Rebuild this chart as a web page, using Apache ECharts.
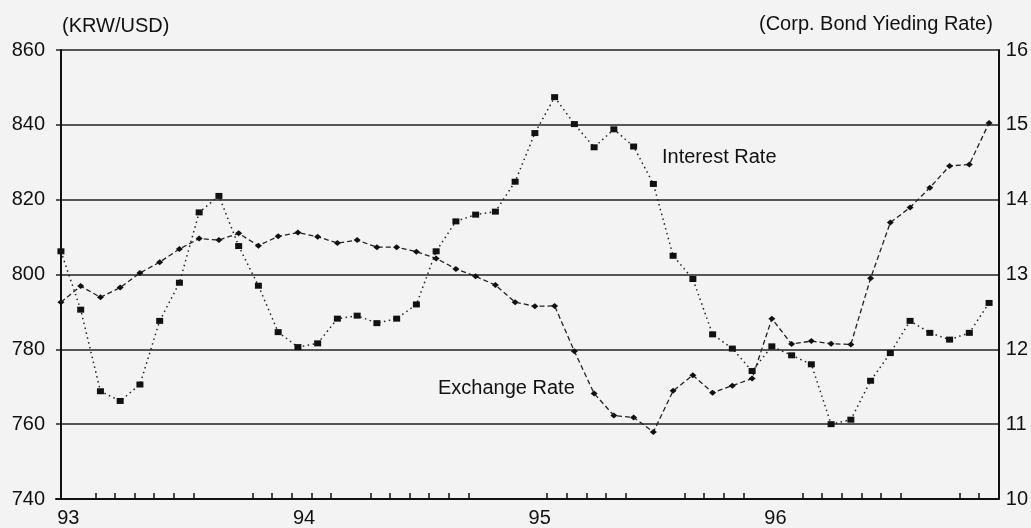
<!DOCTYPE html>
<html>
<head>
<meta charset="utf-8">
<script src="https://cdn.jsdelivr.net/npm/echarts@6/dist/echarts.min.js"></script>
<style>
html,body{margin:0;padding:0;background:#f3f3f3;}
#chart{width:1031px;height:528px;}
</style>
</head>
<body>
<div id="chart"></div>
<script>
// ---- data ----
const years = ['93', '94', '95', '96'];
const monthsPerYear = 12;
// KRW/USD exchange rate (left axis), monthly Jan 93 - Dec 96
const exchangeRate = [
  792.6, 796.9, 793.9, 796.5, 800.4, 803.3, 806.8, 809.6, 809.2, 811.0, 807.7, 810.2,
  811.2, 810.1, 808.4, 809.2, 807.3, 807.3, 806.1, 804.3, 801.5, 799.5, 797.2, 792.6,
  791.5, 791.6, 779.5, 768.2, 762.3, 761.8, 757.9, 768.9, 773.1, 768.4, 770.3, 772.2,
  788.2, 781.4, 782.2, 781.5, 781.3, 799.0, 813.9, 817.9, 823.2, 829.0, 829.4, 840.5
];
// Corporate bond yield (right axis, %)
const interestRate = [
  13.31, 12.53, 11.44, 11.31, 11.53, 12.38, 12.89, 13.83, 14.05, 13.38, 12.85, 12.23,
  12.03, 12.08, 12.41, 12.45, 12.35, 12.41, 12.60, 13.31, 13.71, 13.80, 13.84, 14.24,
  14.89, 15.37, 15.01, 14.70, 14.94, 14.71, 14.21, 13.25, 12.94, 12.20, 12.01, 11.71,
  12.04, 11.92, 11.80, 11.00, 11.06, 11.58, 11.95, 12.38, 12.22, 12.13, 12.22, 12.62
];
const leftTicks = [740, 760, 780, 800, 820, 840, 860];
const rightTicks = [10, 11, 12, 13, 14, 15, 16];
// month slots whose tick marks are visible on the scanned original
const shownTicks = [2,3,4,5,6,7,10,11,12,13,14,16,17,18,19,20,21,25,26,27,28,29,32,33,34,35,38,39,40,41,42,43,46,47];

// ---- build ----
const months = [];
years.forEach(y => { for (let m = 1; m <= monthsPerYear; m++) months.push(y + '-' + m); });
const exData = exchangeRate.map((v, i) => [i, v]);
const irData = interestRate.map((v, i) => [i, v]);
const tickSet = new Set(shownTicks);
const FONT = '"Liberation Sans", Arial, Helvetica, sans-serif';

const chart = echarts.init(document.getElementById('chart'));
chart.setOption({
  backgroundColor: '#f3f3f3',
  animation: false,
  grid: { left: 56, right: 28, top: 50, bottom: 27, containLabel: false },
  xAxis: [
    { type: 'value', min: -0.25, max: 47.49, show: false, position: 'bottom' },
    {
      type: 'category', data: months, boundaryGap: true, position: 'bottom',
      axisLine: { show: true, lineStyle: { color: '#111', width: 2 } },
      axisTick: { show: true, inside: true, length: 6, lineStyle: { color: '#111', width: 1.5 },
                  interval: (idx) => tickSet.has(idx) },
      axisLabel: { show: true, interval: 11, margin: 9, color: '#111', fontSize: 20, fontFamily: FONT,
                   formatter: (v) => v.split('-')[0], padding: [0, 0, 0, 5] },
      splitLine: { show: false }
    }
  ],
  yAxis: [
    {
      type: 'value', position: 'left', min: leftTicks[0], max: leftTicks[leftTicks.length - 1], interval: 20,
      axisLine: { show: true, lineStyle: { color: '#111', width: 2 } },
      axisTick: { show: false },
      axisLabel: { color: '#111', fontSize: 20, fontFamily: FONT, margin: 11 },
      splitLine: { show: true, lineStyle: { color: '#222', width: 1.5 } }
    },
    {
      type: 'value', position: 'right', min: rightTicks[0], max: rightTicks[rightTicks.length - 1], interval: 1,
      axisLine: { show: true, lineStyle: { color: '#111', width: 2 } },
      axisTick: { show: false },
      axisLabel: { color: '#111', fontSize: 20, fontFamily: FONT, margin: 7 },
      splitLine: { show: false }
    }
  ],
  series: [
    {
      name: 'Exchange Rate', type: 'line', xAxisIndex: 0, yAxisIndex: 0, data: exData,
      symbol: 'diamond', symbolSize: [7, 6],
      itemStyle: { color: '#111' },
      lineStyle: { color: '#222', width: 1.3, type: [5, 3] }
    },
    {
      name: 'Interest Rate', type: 'line', xAxisIndex: 0, yAxisIndex: 1, data: irData,
      symbol: 'rect', symbolSize: [7, 6],
      itemStyle: { color: '#111' },
      lineStyle: { color: '#222', width: 1.5, type: [1.5, 3.5] }
    }
  ],
  graphic: [
    { type: 'text', left: 62, top: 16, style: { text: '(KRW/USD)', font: '20px ' + FONT, fill: '#111' } },
    { type: 'text', left: 759, top: 14, style: { text: '(Corp. Bond Yieding Rate)', font: '20px ' + FONT, fill: '#111' } },
    { type: 'text', left: 662, top: 147, style: { text: 'Interest Rate', font: '20px ' + FONT, fill: '#111' } },
    { type: 'text', left: 438, top: 378, style: { text: 'Exchange Rate', font: '20px ' + FONT, fill: '#111' } }
  ]
});
</script>
</body>
</html>
